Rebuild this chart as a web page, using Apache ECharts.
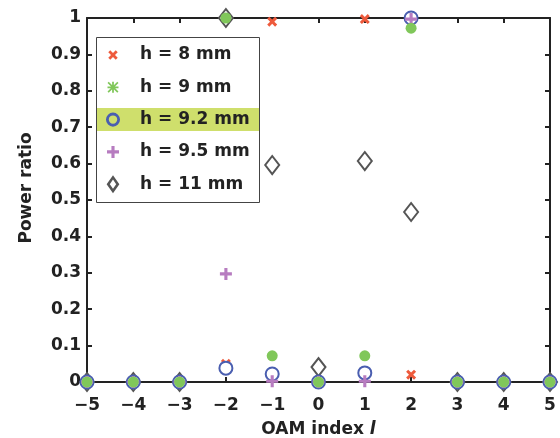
<!DOCTYPE html>
<html><head><meta charset="utf-8">
<script src="https://cdn.jsdelivr.net/npm/echarts@6/dist/echarts.min.js"></script>
<style>html,body{margin:0;padding:0;background:#fff}#c{width:560px;height:438px}</style>
</head><body><div id="c"></div>
<script>
const oamIndex = [-5,-4,-3,-2,-1,0,1,2,3,4,5];
const h8   = [0,0,0,0.05,0.99,0,0.997,0.02,0,0,0];
const h9   = [0,0,0,1.0,0.072,0,0.072,0.972,0,0,0];
const h92  = [0,0,0,0.038,0.022,0,0.025,1.0,0,0,0];
const h95  = [0,0,0,0.297,0.002,0,0.002,0.997,0,0,0];
const h11  = [0,0,0,1.0,0.596,0.041,0.607,0.467,0,0,0];
const seriesNames = ['h = 8 mm','h = 9 mm','h = 9.2 mm','h = 9.5 mm','h = 11 mm'];
const yTicks = [0,0.1,0.2,0.3,0.4,0.5,0.6,0.7,0.8,0.9,1];

const pairs = v => oamIndex.map((x,i)=>[x,v[i]]);
const X_BODY = 'M0,2.1L2.1,0L5,2.9L7.9,0L10,2.1L7.1,5L10,7.9L7.9,10L5,7.1L2.1,10L0,7.9L2.9,5Z';
const PLUS_BODY = 'M3.7,0H6.3V3.7H10V6.3H6.3V10H3.7V6.3H0V3.7H3.7Z';
const AST_BODY = 'M4.2,0H5.8V10H4.2Z M0,4.2H10V5.8H0Z M1.1,0L10,8.9L8.9,10L0,1.1Z M8.9,0L10,1.1L1.1,10L0,8.9Z';
const RING_BODY = 'M0,5A5,5 0 1,0 10,5A5,5 0 1,0 0,5Z M2.0,5A3.0,3.0 0 1,1 8.0,5A3.0,3.0 0 1,1 2.0,5Z';
const DIAM_BODY = 'M6,0L12,8.5L6,17L0,8.5Z M6,4.1L3.0,8.5L6,12.9L9.0,8.5Z';
const X_PATH = 'path://' + X_BODY;
const PLUS_PATH = 'path://' + PLUS_BODY;
// legend icons: padded bounding boxes so each icon gets its own size
const LEG_X = 'path://M-4.5,-4.5M14.5,14.5' + X_BODY;
const LEG_AST = 'path://M-3.2,-3.2M13.2,13.2' + AST_BODY;
const LEG_RING = 'path://M-1.4,-1.4M11.4,11.4' + RING_BODY;
const LEG_PLUS = 'path://M-2.5,-2.5M12.5,12.5' + PLUS_BODY;
const LEG_DIAM = 'path://' + DIAM_BODY;
const FONT = 'DejaVu Sans';
const axisCol = '#222';
const noBorder = {borderWidth:0};

const chart = echarts.init(document.getElementById('c'));
chart.setOption({
  animation:false,
  backgroundColor:'#fff',
  graphic:[
    {type:'rect', left:96, top:37, shape:{width:163,height:165}, style:{fill:'#fff',stroke:'#444',lineWidth:1}, z:10},
    {type:'rect', left:97, top:108, shape:{width:162,height:23}, style:{fill:'#cfdf6c'}, z:11}
  ],
  grid:{left:87,right:10,top:18,bottom:56,outerBoundsMode:'none',containLabel:false},
  legend:{
    orient:'vertical', left:99, top:40, itemGap:12.3, itemWidth:18, itemHeight:18,
    selectedMode:false, z:20,
    textStyle:{fontFamily:FONT,fontWeight:'bold',fontSize:17,color:'#222',padding:[0,0,0,13],lineHeight:20},
    data:[
      {name:seriesNames[0], icon:LEG_X, itemStyle:noBorder},
      {name:seriesNames[1], icon:LEG_AST, itemStyle:noBorder},
      {name:seriesNames[2], icon:LEG_RING, itemStyle:{color:'#4a5eb0',borderWidth:0}},
      {name:seriesNames[3], icon:LEG_PLUS, itemStyle:noBorder},
      {name:seriesNames[4], icon:LEG_DIAM, itemStyle:{color:'#555',borderWidth:0}}
    ]
  },
  xAxis:[{
    type:'value', min:-5, max:5, interval:1,
    axisLine:{onZero:false,lineStyle:{color:axisCol,width:2}},
    axisTick:{inside:true,length:5,lineStyle:{color:axisCol,width:2}},
    splitLine:{show:false},
    axisLabel:{margin:15,fontFamily:FONT,fontWeight:'bold',fontSize:17,color:'#222',
      formatter:v=> v<0 ? '\u2212'+Math.abs(v) : String(v)},
    name:'OAM index {i|l}', nameLocation:'middle', nameGap:39,
    nameTextStyle:{fontFamily:FONT,fontWeight:'bold',fontSize:17,color:'#222',
      rich:{i:{fontFamily:FONT,fontWeight:'bold',fontStyle:'italic',fontSize:17,color:'#222'}}}
  },{
    type:'value', position:'top', min:-5, max:5, interval:1,
    axisLine:{onZero:false,lineStyle:{color:axisCol,width:2}},
    axisTick:{inside:true,length:5,lineStyle:{color:axisCol,width:2}},
    axisLabel:{show:false}, splitLine:{show:false}
  }],
  yAxis:[{
    type:'value', min:0, max:1, interval:0.1,
    axisLine:{show:true,onZero:false,lineStyle:{color:axisCol,width:2}},
    axisTick:{show:true,inside:true,length:5,lineStyle:{color:axisCol,width:2}},
    splitLine:{show:false},
    axisLabel:{margin:6,fontFamily:FONT,fontWeight:'bold',fontSize:17,color:'#222',
      formatter:v=>String(Math.round(v*10)/10)},
    name:'Power ratio', nameLocation:'middle', nameGap:52,
    nameTextStyle:{fontFamily:FONT,fontWeight:'bold',fontSize:17,color:'#222',padding:[0,0,0,24]}
  },{
    type:'value', position:'right', min:0, max:1, interval:0.1,
    axisLine:{show:true,onZero:false,lineStyle:{color:axisCol,width:2}},
    axisTick:{show:true,inside:true,length:5,lineStyle:{color:axisCol,width:2}},
    axisLabel:{show:false}, splitLine:{show:false}
  }],
  series:[
    {name:seriesNames[0], type:'scatter', data:pairs(h8), symbol:X_PATH, symbolSize:10, z:3,
      itemStyle:{color:'#ee5a3c',opacity:1}},
    {name:seriesNames[1], type:'scatter', data:pairs(h9), symbol:'circle', symbolSize:11, z:6,
      itemStyle:{color:'#80c75a',opacity:1}},
    {name:seriesNames[2], type:'scatter', data:pairs(h92), symbol:'emptyCircle', symbolSize:13, z:4,
      itemStyle:{color:'#4a5eb0',borderColor:'#4a5eb0',borderWidth:2.8,opacity:1}},
    {name:seriesNames[3], type:'scatter', data:pairs(h95), symbol:PLUS_PATH, symbolSize:12, z:5,
      itemStyle:{color:'#b77cc0',opacity:1}},
    {name:seriesNames[4], type:'scatter', data:pairs(h11), symbol:'emptyDiamond', symbolSize:[14,18], z:2,
      itemStyle:{color:'#555',borderColor:'#555',borderWidth:2.8,opacity:1}}
  ]
});
</script></body></html>
